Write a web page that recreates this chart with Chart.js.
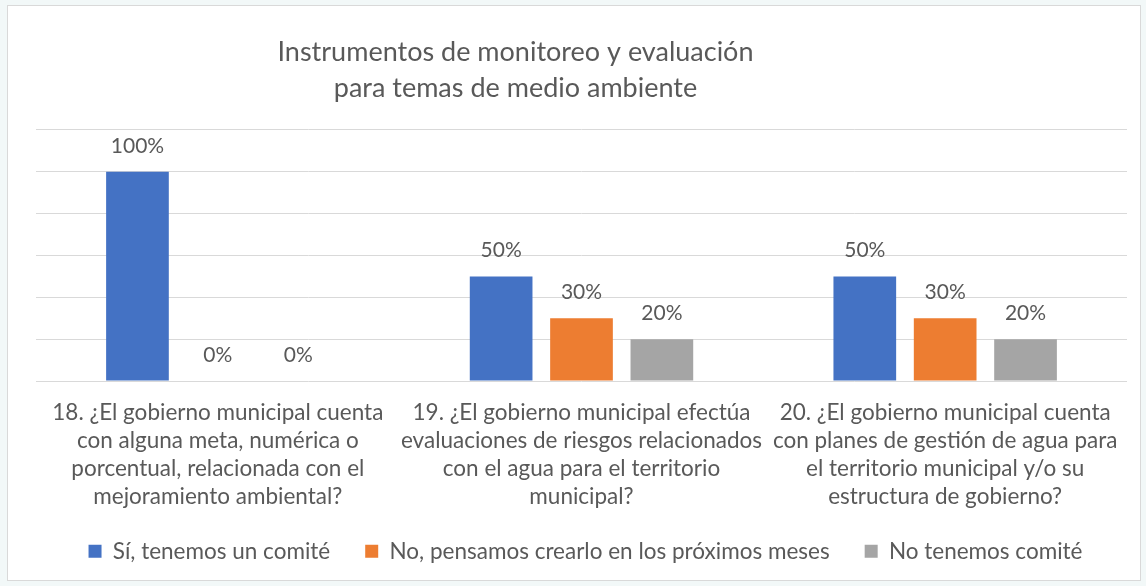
<!DOCTYPE html>
<html>
<head>
<meta charset="utf-8">
<script src="https://cdn.jsdelivr.net/npm/chart.js@4/dist/chart.umd.min.js"></script>
<style>
  html, body { margin: 0; padding: 0; background: #f2f8f8; }
  #frame { position: absolute; left: 7px; top: 5px; width: 1132px; height: 574px; background: #fff; border: 1px solid #d9d9d9; }
  #wrap { position: absolute; left: 0; top: 0; width: 1146px; height: 586px; }
</style>
</head>
<body>
<div id="frame"></div>
<div id="wrap"><canvas id="chart" width="1146" height="586"></canvas></div>
<script>
const categories = [
  ['18. ¿El gobierno municipal cuenta', 'con alguna meta, numérica o', 'porcentual, relacionada con el', 'mejoramiento ambiental?'],
  ['19. ¿El gobierno municipal efectúa', 'evaluaciones de riesgos relacionados', 'con el agua para el territorio', 'municipal?'],
  ['20. ¿El gobierno municipal cuenta', 'con planes de gestión de agua para', 'el territorio municipal y/o su', 'estructura de gobierno?']
];
const seriesNames = ['Sí, tenemos un comité', 'No, pensamos crearlo en los próximos meses', 'No tenemos comité'];
const siValues = [100, 50, 50];
const pensamosValues = [0, 30, 30];
const noValues = [0, 20, 20];
const titleLines = ['Instrumentos de monitoreo y evaluación', 'para temas de medio ambiente'];

const textColor = '#595959';
const fontFamily = 'Lato, "Open Sans", sans-serif';

// nudge title and legend like the original layout
const shiftBoxes = {
  id: 'shiftBoxes',
  afterLayout(chart) {
    chart.titleBlock.left -= 66;
    chart.titleBlock.right -= 66;
    chart.legend.left += 4;
    chart.legend.right += 4;
    chart.legend.top -= 24;
  }
};

const valueLabels = {
  id: 'valueLabels',
  afterDatasetsDraw(chart) {
    const ctx = chart.ctx;
    ctx.save();
    ctx.fillStyle = textColor;
    ctx.font = '21px ' + fontFamily;
    ctx.textAlign = 'center';
    ctx.textBaseline = 'middle';
    chart.data.datasets.forEach((ds, i) => {
      chart.getDatasetMeta(i).data.forEach((bar, j) => {
        ctx.fillText(ds.data[j] + '%', bar.x, bar.y - 26);
      });
    });
    ctx.restore();
  }
};

new Chart(document.getElementById('chart'), {
  type: 'bar',
  data: {
    labels: categories,
    datasets: [
      { label: seriesNames[0], data: siValues, backgroundColor: '#4472C4' },
      { label: seriesNames[1], data: pensamosValues, backgroundColor: '#ED7D31' },
      { label: seriesNames[2], data: noValues, backgroundColor: '#A5A5A5' }
    ]
  },
  options: {
    responsive: false,
    animation: false,
    categoryPercentage: 0.663,
    barPercentage: 0.78,
    layout: { padding: { left: 36, right: 19, top: 0, bottom: 0 } },
    plugins: {
      title: {
        display: true,
        text: titleLines,
        color: textColor,
        font: { family: fontFamily, size: 27, weight: 'normal', lineHeight: 1.333 },
        padding: { top: 34, bottom: 24 }
      },
      legend: {
        position: 'bottom',
        maxHeight: 57,
        labels: { color: textColor, font: { family: fontFamily, size: 22.5 }, boxWidth: 13, boxHeight: 13, padding: 35 }
      },
      tooltip: { enabled: false }
    },
    scales: {
      x: {
        grid: { display: false, drawTicks: false },
        border: { display: false },
        ticks: { color: textColor, font: { family: fontFamily, size: 22.5, lineHeight: 1.244 }, padding: 18, maxRotation: 0, autoSkip: false }
      },
      y: {
        min: 0,
        max: 120,
        ticks: { display: false, stepSize: 20 },
        grid: { color: '#d9d9d9', drawTicks: false },
        border: { display: false }
      }
    }
  },
  plugins: [shiftBoxes, valueLabels]
});
</script>
</body>
</html>
